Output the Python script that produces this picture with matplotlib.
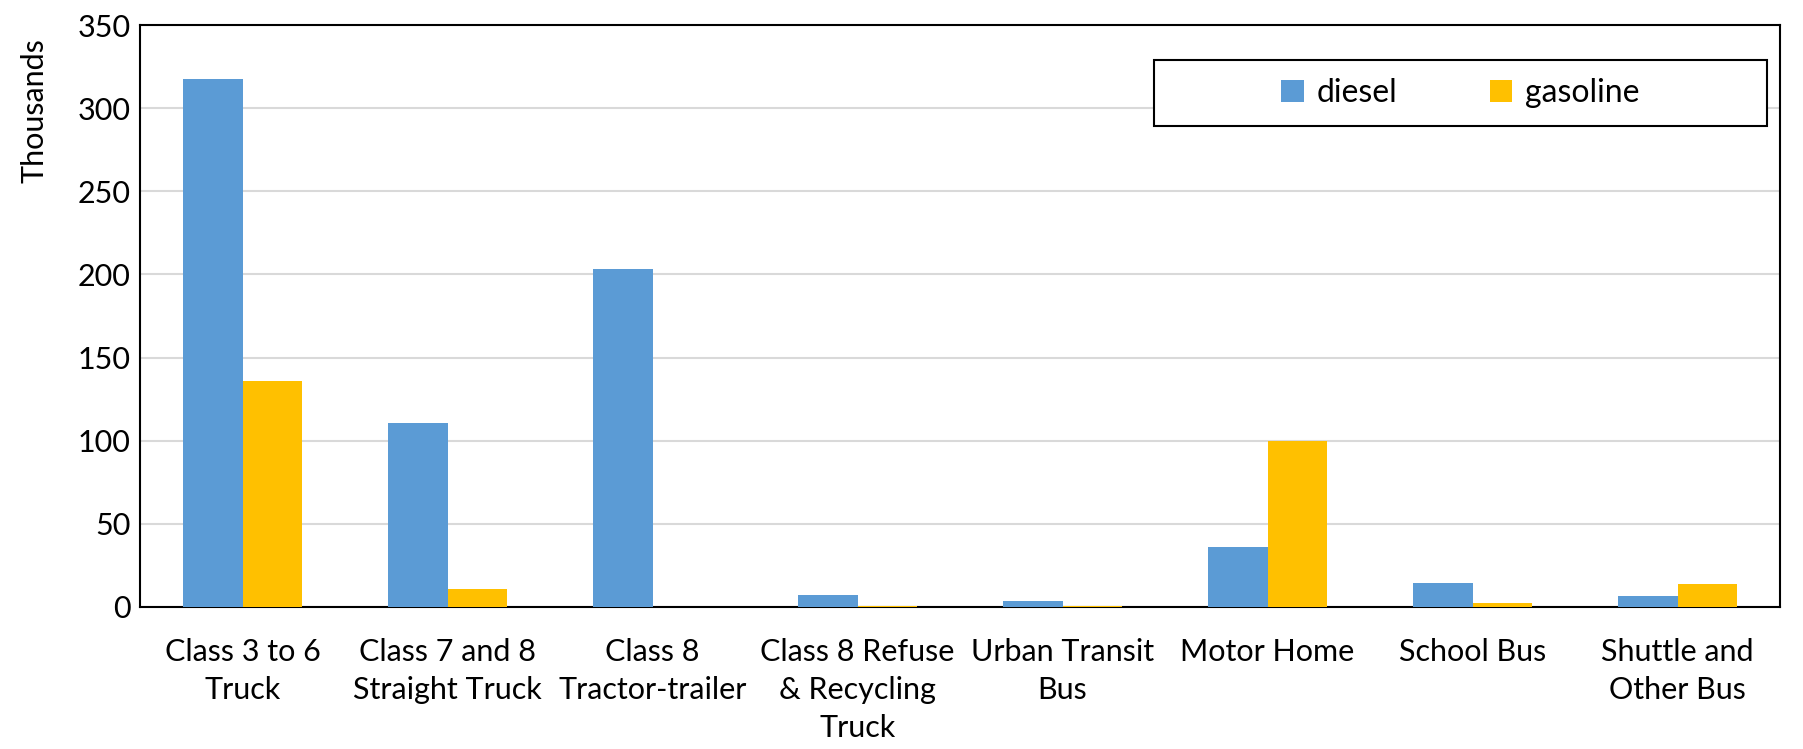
import matplotlib
matplotlib.use("Agg")
import matplotlib.pyplot as plt
import numpy as np

categories = [
    "Class 3 to 6\nTruck",
    "Class 7 and 8\nStraight Truck",
    "Class 8\nTractor-trailer",
    "Class 8 Refuse\n& Recycling\nTruck",
    "Urban Transit\nBus",
    "Motor Home",
    "School Bus",
    "Shuttle and\nOther Bus",
]
diesel = [317.7, 110.5, 203.5, 7.0, 3.6, 36.0, 14.2, 6.8]
gasoline = [135.8, 10.8, 0.0, 0.5, 0.5, 100.0, 2.2, 14.0]
yticks = [0, 50, 100, 150, 200, 250, 300, 350]

plt.rcParams["font.family"] = ["Lato", "DejaVu Sans"]
FS = 22

fig = plt.figure(figsize=(18.03, 7.49), dpi=100)
ax = fig.add_axes([0.0777, 0.1896, 0.9096, 0.777])

x = np.arange(len(categories))
w = 0.29
ax.bar(x - w / 2, diesel, width=w, color="#5B9BD5", label="diesel", zorder=3)
ax.bar(x + w / 2, gasoline, width=w, color="#FFC000", label="gasoline", zorder=3)

ax.set_xlim(-0.5, len(categories) - 0.5)
ax.set_ylim(0, 350)
ax.set_yticks(yticks)
ax.set_xticks(x)
ax.set_xticklabels(categories, fontsize=FS, linespacing=1.45)
ax.tick_params(axis="y", labelsize=FS, length=0, pad=7)
ax.tick_params(axis="x", length=0, pad=22)
ax.yaxis.grid(True, color="#d9d9d9", linewidth=1.5, zorder=0)
ax.set_axisbelow(True)
for s in ax.spines.values():
    s.set_color("black")
    s.set_linewidth(1.5)

# display-units caption sits at the top of the value axis
fig.text(0.019, 0.852, "Thousands", rotation=90, fontsize=FS,
         ha="center", va="center")

box = (0.618, 0.826, 0.374, 0.114)
leg = ax.legend(
    loc="center",
    bbox_to_anchor=box,
    bbox_transform=ax.transAxes,
    ncol=2,
    fontsize=FS + 1,
    frameon=False,
    handlelength=0.7,
    handleheight=0.7,
    handletextpad=0.4,
    columnspacing=2.9,
)
frame = plt.Rectangle(box[:2], box[2], box[3], transform=ax.transAxes,
                      fill=True, facecolor="white", edgecolor="black",
                      linewidth=1.5, zorder=4)
ax.add_patch(frame)
leg.set_zorder(5)

fig.savefig("out.png", dpi=100, facecolor="white")
